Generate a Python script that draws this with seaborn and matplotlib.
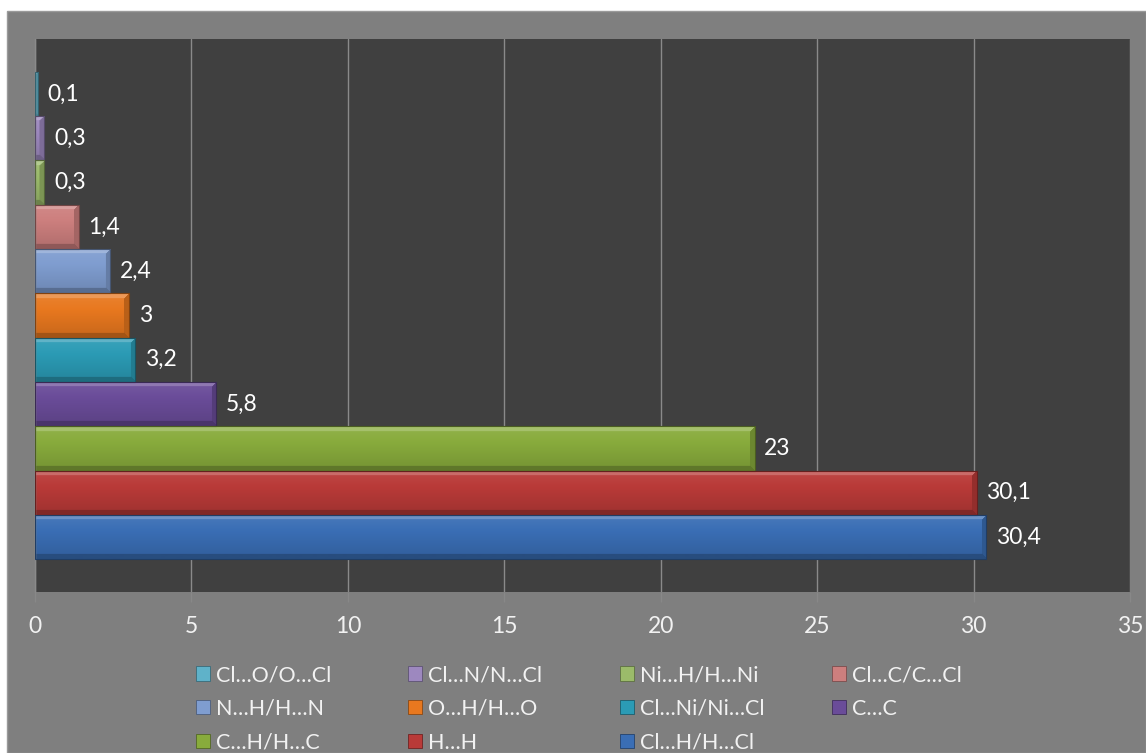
import numpy as np
import pandas as pd
import matplotlib
matplotlib.use("Agg")
import matplotlib.pyplot as plt
from matplotlib.patches import Patch, Rectangle
from matplotlib.colors import to_rgb
import seaborn as sns

# Contact types (top to bottom) and their contributions, %
contacts = ["Cl…O/O…Cl", "Cl…N/N…Cl", "Ni…H/H…Ni", "Cl…C/C…Cl",
            "N…H/H…N", "O…H/H…O", "Cl…Ni/Ni…Cl", "C…C",
            "C…H/H…C", "H…H", "Cl…H/H…Cl"]
percent = [0.1, 0.3, 0.3, 1.4, 2.4, 3.0, 3.2, 5.8, 23.0, 30.1, 30.4]
colors = ["#5fb2c9", "#9d88bf", "#9bbb6a", "#cd7f7e", "#7f9dd0", "#e8781f",
          "#2b9bb5", "#6a4c99", "#88ab3c", "#b93a38", "#3a6eb5"]
x_ticks = [0, 5, 10, 15, 20, 25, 30, 35]

df = pd.DataFrame({"contact": contacts, "percent": percent})
palette = dict(zip(contacts, colors))

sns.set_theme(style="dark")
plt.rcParams["font.family"] = ["Lato", "DejaVu Sans"]

W, H = 1146, 753
fig = plt.figure(figsize=(W / 100, H / 100), dpi=100, facecolor="white")

# grey chart frame
fig.patches.append(Rectangle((7 / W, 0), (W - 7) / W, (H - 11) / H,
                             transform=fig.transFigure, facecolor="#7f7f7f",
                             edgecolor="#9a9a9a", linewidth=1.0, zorder=-10))

ax = fig.add_axes([35 / W, 1 - 592 / H, (1130 - 35) / W, (592 - 39) / H])
ax.set_facecolor("#404040")

sns.barplot(data=df, x="percent", y="contact", hue="contact", palette=palette,
            order=contacts, hue_order=contacts, dodge=False, width=1.0,
            legend=False, ax=ax, saturation=1.0)


def shade(rgb, f):
    rgb = np.asarray(rgb)
    if f >= 1:
        return rgb + (1 - rgb) * (f - 1)
    return rgb * f


ax.set_xlim(0, 35)
ax.set_ylim(10.5 + 0.74, -0.5 - 0.74)
fig.canvas.draw()
px_per_x = ax.transData.transform((1, 0))[0] - ax.transData.transform((0, 0))[0]


def bevel_image(rgb, wpx, hpx, d=5):
    """Face of a bar with a lit top edge, dark bottom edge and shaded end."""
    wpx = max(int(round(wpx)), 1)
    hpx = max(int(round(hpx)), 1)
    yy, xx = np.mgrid[0:hpx, 0:wpx]
    fac = np.linspace(1.08, 0.86, hpx)[:, None] * np.ones((1, wpx))
    dt, db, dr = yy + 0.5, hpx - yy - 0.5, wpx - xx - 0.5
    fac[(dr < d) & (dr < dt) & (dr < db)] = 0.8
    fac[(dt < d) & (dt <= dr)] = 1.25
    fac[(db < d) & (db <= dr)] = 0.7
    rgb = np.asarray(rgb)
    light = rgb + (1 - rgb) * np.clip(fac - 1, 0, None)[..., None]
    dark = rgb * np.clip(fac, None, 1)[..., None]
    img = np.where((fac >= 1)[..., None], light, dark)
    return np.clip(img, 0, 1)


for patch, c in zip(ax.patches, colors):
    x0, y0 = patch.get_x(), patch.get_y()
    w, h = patch.get_width(), patch.get_height()
    rgb = to_rgb(c)
    img = bevel_image(rgb, w * px_per_x, 44)
    im = ax.imshow(img, extent=(x0, x0 + w, y0 + h, y0), origin="upper",
                   aspect="auto", interpolation="bilinear", zorder=2)
    im.set_clip_path(patch)
    patch.set_facecolor("none")
    patch.set_edgecolor(shade(rgb, 0.55))
    patch.set_linewidth(0.8)
    patch.set_zorder(3)

for cont, v in zip(ax.containers, percent):
    ax.bar_label(cont, labels=[f"{v:g}".replace(".", ",")], padding=7,
                 color="white", fontsize=16.5)

ax.set_xlim(0, 35)
ax.set_ylim(10.5 + 0.74, -0.5 - 0.74)
ax.set_xticks(x_ticks)
ax.set_xticklabels([str(t) for t in x_ticks])
ax.set_yticks([])
ax.set_xlabel("")
ax.set_ylabel("")
ax.grid(axis="x", color="#8a8a8a", linewidth=1.0, zorder=1)
ax.grid(axis="y", visible=False)
ax.set_axisbelow(True)
ax.tick_params(axis="x", colors="#888888", labelcolor="#f2f2f2", labelsize=16.5,
               length=7, width=1, direction="out", pad=10, bottom=True)
for side in ("top", "right", "bottom"):
    ax.spines[side].set_visible(False)
ax.spines["left"].set_color("#8a8a8a")
ax.spines["left"].set_linewidth(1.0)

# legend: four equal-width columns, filled row by row
handles = [Patch(facecolor=c, edgecolor=shade(to_rgb(c), 0.6), linewidth=0.6)
           for c in colors]
col_left = [196, 408, 620, 832]
for k, xl in enumerate(col_left):
    idx = list(range(k, len(contacts), 4))
    fig.legend([handles[i] for i in idx], [contacts[i] for i in idx],
               loc="upper left", bbox_to_anchor=(xl / W, 1 - 665 / H),
               bbox_transform=fig.transFigure, frameon=False,
               fontsize=15.5, labelcolor="#f2f2f2", handlelength=0.65,
               handleheight=0.65, handletextpad=0.3, labelspacing=0.64,
               borderpad=0, borderaxespad=0)

fig.savefig("out.png", dpi=100, facecolor="white")
